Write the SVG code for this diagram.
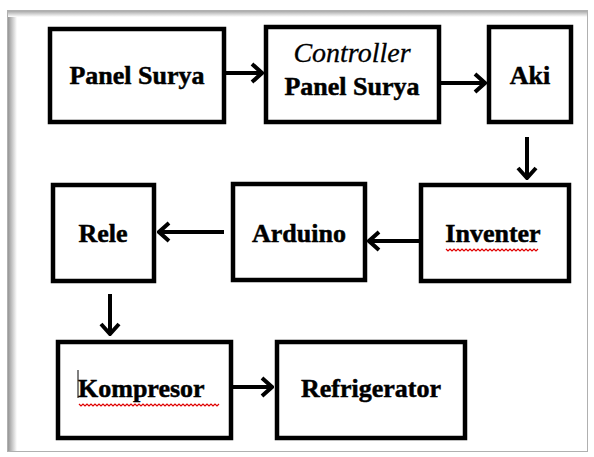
<svg xmlns="http://www.w3.org/2000/svg" width="594" height="457" viewBox="0 0 594 457">
  <defs>
    <style>
      .box { fill: #ffffff; stroke: #000000; stroke-width: 4.5; }
      .lbl { font-family: 'Liberation Serif', 'Times New Roman', serif; font-weight: bold; font-size: 26px; fill: #000000; stroke: #000000; stroke-width: 0.5; text-anchor: middle; }
      .ital { font-family: 'Liberation Serif', 'Times New Roman', serif; font-style: italic; font-size: 28px; fill: #000000; stroke: #000000; stroke-width: 0.3; text-anchor: middle; }
      .conn { stroke: #000000; stroke-width: 4; fill: none; }
      .squig { stroke: #e00000; stroke-width: 1.2; fill: none; }
    </style>
    <marker id="arr" markerUnits="userSpaceOnUse" viewBox="-14 -12 16 24" refX="0" refY="0" markerWidth="16" markerHeight="24" orient="auto">
      <path d="M-10,-9 L0,0 L-10,9" fill="none" stroke="#000000" stroke-width="4" stroke-linejoin="miter"/>
    </marker>
    <linearGradient id="gl" x1="0" y1="0" x2="1" y2="0">
      <stop offset="0" stop-color="#8a8a8a"/>
      <stop offset="1" stop-color="#ffffff"/>
    </linearGradient>
    <linearGradient id="gt" x1="0" y1="0" x2="0" y2="1">
      <stop offset="0" stop-color="#9a9a9a"/>
      <stop offset="1" stop-color="#ffffff"/>
    </linearGradient>
  </defs>

  <rect x="0" y="0" width="594" height="457" fill="#ffffff"/>

  <g id="frame">
    <rect x="7" y="10" width="10" height="442" fill="url(#gl)"/>
    <rect x="7" y="10" width="581" height="7" fill="url(#gt)"/>
    <rect x="7.5" y="10.5" width="580" height="441" fill="none" stroke="#b0b0b0" stroke-width="1"/>
  </g>

  <g id="connectors">
    <line class="conn" x1="226" y1="73" x2="262" y2="73" marker-end="url(#arr)"/>
    <line class="conn" x1="441" y1="83" x2="485" y2="83" marker-end="url(#arr)"/>
    <line class="conn" x1="527" y1="137" x2="527" y2="178" marker-end="url(#arr)"/>
    <line class="conn" x1="224" y1="232" x2="159" y2="232" marker-end="url(#arr)"/>
    <line class="conn" x1="419" y1="241" x2="369" y2="241" marker-end="url(#arr)"/>
    <line class="conn" x1="110" y1="294" x2="110" y2="334" marker-end="url(#arr)"/>
    <line class="conn" x1="233" y1="387" x2="272" y2="387" marker-end="url(#arr)"/>
  </g>

  <g id="panel-surya">
    <rect class="box" x="50" y="29" width="174" height="93"/>
    <text class="lbl" x="137" y="84">Panel Surya</text>
  </g>

  <g id="controller">
    <rect class="box" x="266" y="27" width="173" height="95"/>
    <text class="ital" x="352" y="62">Controller</text>
    <text class="lbl" x="352" y="95">Panel Surya</text>
  </g>

  <g id="aki">
    <rect class="box" x="489" y="27" width="82" height="95"/>
    <text class="lbl" x="530" y="84">Aki</text>
  </g>

  <g id="inventer">
    <rect class="box" x="421" y="185" width="148" height="96"/>
    <text class="lbl" x="493" y="242">Inventer</text>
    <path class="squig" d="M446,249 l2,2 l2,-2 l2,2 l2,-2 l2,2 l2,-2 l2,2 l2,-2 l2,2 l2,-2 l2,2 l2,-2 l2,2 l2,-2 l2,2 l2,-2 l2,2 l2,-2 l2,2 l2,-2 l2,2 l2,-2 l2,2 l2,-2 l2,2 l2,-2 l2,2 l2,-2 l2,2 l2,-2 l2,2 l2,-2 l2,2 l2,-2 l2,2 l2,-2 l2,2 l2,-2 l2,2 l2,-2 l2,2 l2,-2 l2,2 l2,-2 l2,2 l2,-2"/>
  </g>

  <g id="arduino">
    <rect class="box" x="233" y="184" width="132" height="96"/>
    <text class="lbl" x="299" y="242">Arduino</text>
  </g>

  <g id="rele">
    <rect class="box" x="53" y="185" width="101" height="96"/>
    <text class="lbl" x="103" y="242">Rele</text>
  </g>

  <g id="kompresor">
    <rect class="box" x="58" y="342" width="173" height="96"/>
    <line x1="78" y1="370" x2="78" y2="398" stroke="#000000" stroke-width="1"/>
    <text class="lbl" x="78" y="397" style="text-anchor:start">Kompresor</text>
    <path class="squig" d="M79,404 l2,2 l2,-2 l2,2 l2,-2 l2,2 l2,-2 l2,2 l2,-2 l2,2 l2,-2 l2,2 l2,-2 l2,2 l2,-2 l2,2 l2,-2 l2,2 l2,-2 l2,2 l2,-2 l2,2 l2,-2 l2,2 l2,-2 l2,2 l2,-2 l2,2 l2,-2 l2,2 l2,-2 l2,2 l2,-2 l2,2 l2,-2 l2,2 l2,-2 l2,2 l2,-2 l2,2 l2,-2 l2,2 l2,-2 l2,2 l2,-2 l2,2 l2,-2 l2,2 l2,-2 l2,2 l2,-2 l2,2 l2,-2 l2,2 l2,-2 l2,2 l2,-2 l2,2 l2,-2 l2,2 l2,-2 l2,2 l2,-2 l2,2 l2,-2 l2,2 l2,-2 l2,2 l2,-2 l2,2 l2,-2"/>
  </g>

  <g id="refrigerator">
    <rect class="box" x="277" y="342" width="188" height="96"/>
    <text class="lbl" x="371" y="397">Refrigerator</text>
  </g>
</svg>
